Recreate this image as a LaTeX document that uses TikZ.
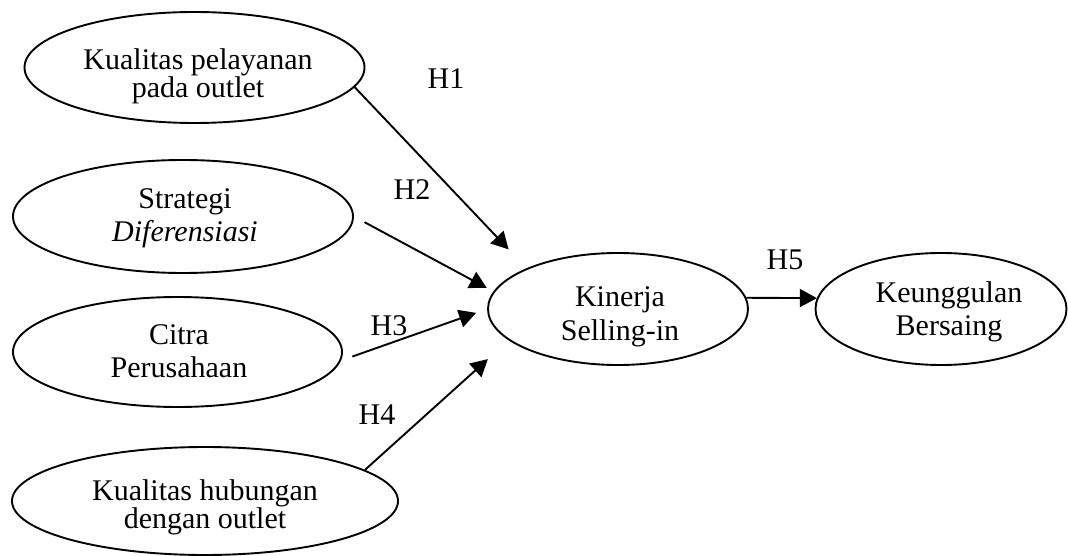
\documentclass[tikz,border=0pt]{standalone}
\usepackage{fontspec}
\setmainfont{Liberation Serif}
\usetikzlibrary{shapes.geometric,arrows.meta}
\newcommand{\lblfont}[1]{\fontsize{30}{#1}\selectfont\lineskiplimit=-20pt\relax}
\begin{document}
\begin{tikzpicture}[x=1pt,y=-1pt,
  construct/.style={draw, ellipse, line width=1.9pt, inner sep=0pt},
  caption/.style={align=center, inner sep=0pt, anchor=base},
  hyp/.style={line width=1.9pt, -{Triangle[length=17pt,width=18pt]}},
  hlabel/.style={font=\lblfont{34}, inner sep=0pt}]
\useasboundingbox (0,0) rectangle (1068,556);

% exogenous constructs
\node[construct, minimum width=340pt, minimum height=111pt] (e1) at (194.5,67.5) {};
\node[construct, minimum width=340pt, minimum height=113pt] (e2) at (183,216.5) {};
\node[construct, minimum width=329pt, minimum height=110pt] (e3) at (177.5,352) {};
\node[construct, minimum width=386pt, minimum height=108pt] (e4) at (205,501) {};

% mediating and final constructs
\node[construct, minimum width=260pt, minimum height=112pt] (c) at (618,309) {};
\node[construct, minimum width=251pt, minimum height=112pt] (r) at (941,309) {};

% construct names (anchored on the last baseline)
\node[caption, font=\lblfont{28}] (e1t) at (198,98)
  {Kualitas pelayanan\\pada outlet};
\node[caption, font=\lblfont{33.5}] (e2t) at (185,241.5)
  {Strategi\\\textit{Diferensiasi}};
\node[caption, font=\lblfont{33}] (e3t) at (179,377)
  {Citra\\Perusahaan};
\node[caption, font=\lblfont{28}] (e4t) at (205,528)
  {Kualitas hubungan\\dengan outlet};
\node[caption, font=\lblfont{34}] (ct) at (620,340)
  {Kinerja\\Selling-in};
\node[caption, font=\lblfont{33}] (rt) at (949,335)
  {Keunggulan\\Bersaing};

% hypothesised paths
\draw[hyp, shorten >=26pt] (e1.-7) -- (c.156);
\draw[hyp, shorten <=12pt, shorten >=7.5pt] (e2.east) -- (c.172);
\draw[hyp, shorten <=12pt, shorten >=11.6pt] (e3.-3) -- (c.west);
\draw[hyp, shorten >=28pt] (e4.11) -- (c.196);
\draw[hyp] (c.5) -- (r.175);

% path labels
\node[hlabel] (h1) at (446,79) {H1};
\node[hlabel] (h2) at (412,190) {H2};
\node[hlabel] (h3) at (389,326) {H3};
\node[hlabel] (h4) at (377,415) {H4};
\node[hlabel] (h5) at (785,260) {H5};
\end{tikzpicture}
\end{document}
